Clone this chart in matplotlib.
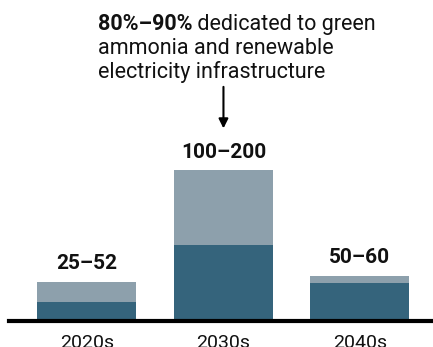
import matplotlib
matplotlib.use('Agg')
import matplotlib.pyplot as plt

# data
decades = ['2020s', '2030s', '2040s']
low = [25, 100, 50]
high = [52, 200, 60]
range_labels = ['25–52', '100–200', '50–60']

DARK = '#35647c'
LIGHT = '#8da0ac'

plt.rcParams['font.family'] = ['Roboto', 'DejaVu Sans']

fig = plt.figure(figsize=(4.33, 3.47), dpi=100)
W, H = 433, 347

# axes bottom at baseline, spans to right edge
ax = fig.add_axes([9 / W, 26 / H, 424 / W, 321 / H])
ax.set_xlim(-0.571, 2.535)
ax.set_ylim(0, 425)

x = list(range(len(decades)))
upper = [h - l for h, l in zip(high, low)]
ax.bar(x, low, width=0.725, color=DARK, zorder=2)
ax.bar(x, upper, bottom=low, width=0.725, color=LIGHT, zorder=2)

for xi, h, lab in zip(x, high, range_labels):
    ax.text(xi, h + 11, lab, ha='center', va='bottom', fontsize=15,
            fontweight='bold', color='#111111')

for s in ['top', 'left', 'right']:
    ax.spines[s].set_visible(False)
ax.spines['bottom'].set_linewidth(3)
ax.spines['bottom'].set_color('#000000')
ax.set_yticks([])
ax.set_xticks(x)
ax.set_xticklabels(decades, fontsize=14, color='#111111')
ax.tick_params(axis='x', length=0, pad=9)

# annotation above the 2030s bar
ax.annotate('', xy=(1.0, 255), xytext=(1.0, 310),
            arrowprops=dict(arrowstyle='-|>', color='black', lw=1.5,
                            mutation_scale=14, shrinkA=0, shrinkB=0))

fs = 15.5
x0 = 98 / W
y0 = 1 - 30 / H
renderer = fig.canvas.get_renderer()
t1 = fig.text(x0, y0, '80%–90%', fontsize=fs, fontweight='bold',
              color='#111111', va='baseline')
bb = t1.get_window_extent(renderer=renderer)
fig.text(bb.x1 / W, y0, ' dedicated to green', fontsize=fs,
         color='#111111', va='baseline')
fig.text(x0, y0 - 24 / H, 'ammonia and renewable', fontsize=fs,
         color='#111111', va='baseline')
fig.text(x0, y0 - 48 / H, 'electricity infrastructure', fontsize=fs,
         color='#111111', va='baseline')

fig.savefig('out.png', dpi=100)
